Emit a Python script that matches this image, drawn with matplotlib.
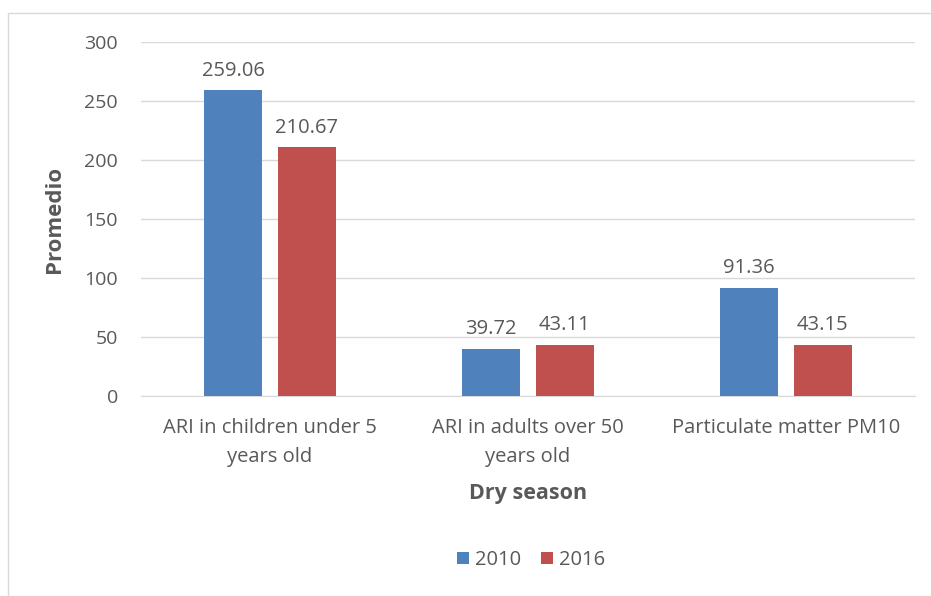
import numpy as np
import matplotlib.pyplot as plt
from matplotlib.patches import Rectangle

categories = ["ARI in children under 5\nyears old", "ARI in adults over 50\nyears old", "Particulate matter PM10"]
years = ["2010", "2016"]
values_2010 = [259.06, 39.72, 91.36]
values_2016 = [210.67, 43.11, 43.15]
colors = ["#4f81bd", "#c0504d"]

plt.rcParams['font.family'] = ['Open Sans', 'DejaVu Sans']
txt = "#595959"

fig = plt.figure(figsize=(9.31, 5.96), dpi=100)
ax = fig.add_axes([141/931, 1 - 396/596, 774/931, (396 - 42)/596])

x = np.arange(len(categories))
w = 0.225
off = 0.143
b1 = ax.bar(x - off, values_2010, w, color=colors[0], label=years[0], zorder=3)
b2 = ax.bar(x + off, values_2016, w, color=colors[1], label=years[1], zorder=3)
for bars, vals in [(b1, values_2010), (b2, values_2016)]:
    for b, v in zip(bars, vals):
        ax.annotate(f"{v:.2f}", (b.get_x() + b.get_width() / 2, v), xytext=(0, 7),
                    textcoords="offset points", ha="center", va="bottom", fontsize=14.5, color=txt)

ax.set_xlim(-0.5, 2.5)
ax.set_ylim(0, 300)
ax.set_yticks(range(0, 301, 50))
ax.set_xticks(x)
ax.set_xticklabels(categories, fontsize=14.5, color=txt, linespacing=1.6)
ax.tick_params(axis='y', labelsize=14, labelcolor=txt, length=0, pad=16.5)
ax.tick_params(axis='x', length=0, pad=16)
ax.grid(axis='y', color="#d9d9d9", linewidth=1, zorder=0)
for s in ['top', 'right', 'left']:
    ax.spines[s].set_visible(False)
ax.spines['bottom'].set_color("#d9d9d9")

ax.set_ylabel("Promedio", fontsize=16, fontweight='bold', color=txt, labelpad=14)
fig.text(528/931, 1 - 494/596, "Dry season", fontsize=15.5, fontweight='bold', color=txt, ha='center', va='center')

handles = [b1, b2]
fig.legend(handles, years, loc='center', bbox_to_anchor=(531/931, 1 - 560/596), ncol=2, frameon=False,
           fontsize=14.5, labelcolor=txt, handlelength=0.6, handleheight=0.6, handletextpad=0.3, columnspacing=1.0)

fig.patches.append(Rectangle((8/931, -0.05), 1.0, 1 - 13/596 + 0.05, transform=fig.transFigure,
                             fill=False, edgecolor="#d9d9d9", linewidth=1))

fig.savefig("out.png", dpi=100)
